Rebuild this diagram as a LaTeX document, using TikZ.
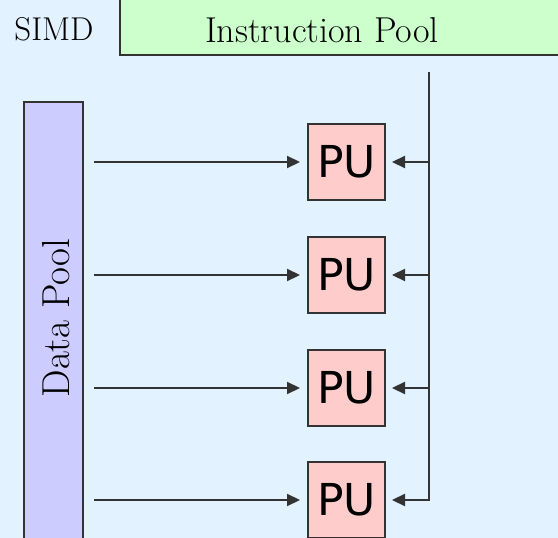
\documentclass[tikz,border=0pt]{standalone}
\usepackage{fontspec}
\newfontfamily\pufont{DejaVu Sans}
\usetikzlibrary{arrows.meta}
\definecolor{bgc}{HTML}{E2F3FF}
\definecolor{ipc}{HTML}{CCFFCC}
\definecolor{dpc}{HTML}{CCCCFF}
\definecolor{puc}{HTML}{FFCCCC}
\definecolor{linec}{HTML}{333333}
\tikzset{
  box/.style={draw=linec, line width=2pt, inner sep=0pt},
  pubox/.style={box, fill=puc, minimum width=77pt, minimum height=76pt, font=\pufont\fontsize{44}{48}\selectfont},
  serif/.style={inner sep=0pt, font=\fontsize{36}{42}\selectfont},
  conn/.style={draw=linec, line width=2.2pt, -{Triangle[length=13pt,width=12pt]}},
}
\begin{document}
\begin{tikzpicture}[x=1pt,y=-1pt]
\useasboundingbox (0,0) rectangle (558,538);
\fill[bgc] (0,0) rectangle (558,538);
\clip (0,0) rectangle (558,538);
% instruction pool
\node[box, fill=ipc, minimum width=470pt, minimum height=80pt, anchor=south west] (ip) at (119,56) {};
\node[serif] (iptext) at (322,30) {Instruction Pool};
\node[serif, font=\fontsize{33}{40}\selectfont] (simd) at (54,29) {SIMD};
% data pool
\node[box, fill=dpc, minimum width=59pt, minimum height=460pt, anchor=north west] (dp) at (23,101) {};
\node[serif, rotate=90, font=\fontsize{39}{44}\selectfont] (dptext) at (56,318) {Data Pool};
% PUs
\node[pubox] (pu1) at (346.5,162) {PU};
\node[pubox] (pu2) at (346.5,275) {PU};
\node[pubox] (pu3) at (346.5,388) {PU};
\node[pubox] (pu4) at (346.5,500) {PU};
% bus
\coordinate (bustop) at (429,72);
\draw[conn] (bustop) |- ([xshift=6pt]pu4.east);
\foreach \p in {pu1,pu2,pu3}
  \draw[conn] (bustop |- \p) -- ([xshift=6pt]\p.east);
% data lines
\foreach \p in {pu1,pu2,pu3,pu4}
  \draw[conn] ([xshift=10pt]dp.east |- \p) -- ([xshift=-7pt]\p.west);
\end{tikzpicture}
\end{document}
